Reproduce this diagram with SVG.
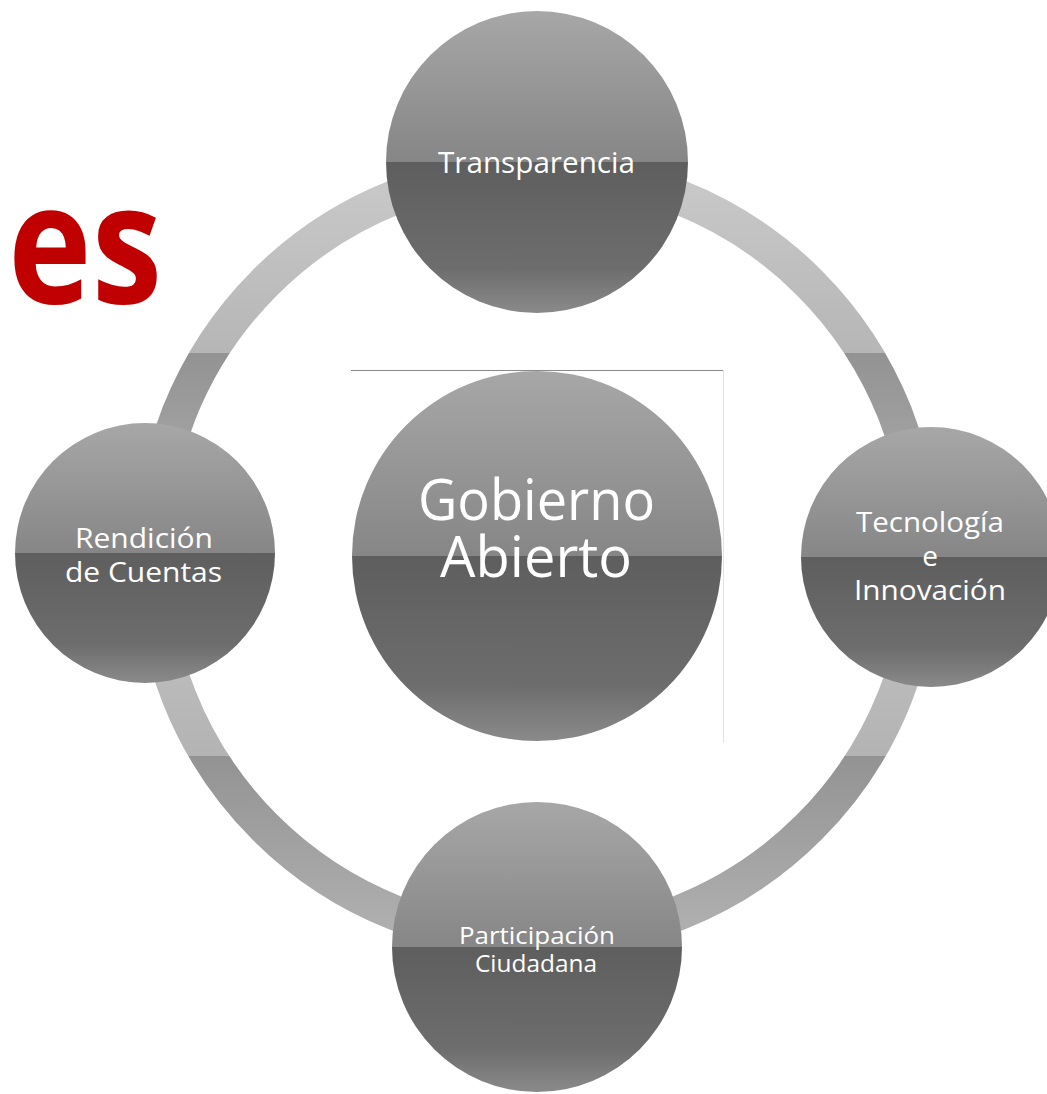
<svg xmlns="http://www.w3.org/2000/svg" width="1047" height="1094" viewBox="0 0 1047 1094">
  <defs>
    <linearGradient id="ballGrad" x1="0" y1="0" x2="0" y2="1">
      <stop offset="0" stop-color="#a7a7a7"/>
      <stop offset="0.499" stop-color="#868686"/>
      <stop offset="0.5" stop-color="#5e5e5e"/>
      <stop offset="0.85" stop-color="#6d6d6d"/>
      <stop offset="1" stop-color="#8a8a8a"/>
    </linearGradient>
    <linearGradient id="arcTop" gradientUnits="userSpaceOnUse" x1="0" y1="152" x2="0" y2="555">
      <stop offset="0" stop-color="#cbcbcb"/>
      <stop offset="0.499" stop-color="#b6b6b6"/>
      <stop offset="0.5" stop-color="#939393"/>
      <stop offset="1" stop-color="#b2b2b2"/>
    </linearGradient>
    <linearGradient id="arcBottom" gradientUnits="userSpaceOnUse" x1="0" y1="555" x2="0" y2="958">
      <stop offset="0" stop-color="#c6c6c6"/>
      <stop offset="0.499" stop-color="#b3b3b3"/>
      <stop offset="0.5" stop-color="#939393"/>
      <stop offset="1" stop-color="#b4b4b4"/>
    </linearGradient>
  </defs>
  <style>
    .ball { fill: url(#ballGrad); }
    .lbl { fill: #ffffff; font-family: "Open Sans", "DejaVu Sans", sans-serif; }
    .ring { fill: none; stroke-width: 35; stroke-linecap: butt; }
  </style>
  <rect x="0" y="0" width="1047" height="1094" fill="#ffffff"/>

  <text x="8" y="303" font-family="Open Sans, Liberation Sans, sans-serif" font-weight="bold" font-size="167" fill="#c00000" textLength="154" lengthAdjust="spacingAndGlyphs">es</text>

  <g id="connectors">
    <path class="ring" stroke="url(#arcTop)" d="M537,170 A385,385 0 0 0 152,555"/>
    <path class="ring" stroke="url(#arcTop)" d="M537,170 A385,385 0 0 1 922,555"/>
    <path class="ring" stroke="url(#arcBottom)" d="M152,555 A385,385 0 0 0 537,940"/>
    <path class="ring" stroke="url(#arcBottom)" d="M922,555 A385,385 0 0 1 537,940"/>
  </g>

  <line x1="351" y1="370.5" x2="723" y2="370.5" stroke="#8a8a8a" stroke-width="1"/>
  <line x1="723.5" y1="370" x2="723.5" y2="743" stroke="#e2e2e2" stroke-width="1"/>

  <g id="center">
    <circle class="ball" cx="537" cy="556" r="185"/>
    <text class="lbl" x="418" y="520" font-size="57" textLength="237" lengthAdjust="spacingAndGlyphs">Gobierno</text>
    <text class="lbl" x="440" y="577" font-size="57" textLength="192" lengthAdjust="spacingAndGlyphs">Abierto</text>
  </g>

  <g id="transparencia">
    <circle class="ball" cx="537" cy="162" r="151"/>
    <text class="lbl" x="438" y="173" font-size="30" textLength="197" lengthAdjust="spacingAndGlyphs">Transparencia</text>
  </g>

  <g id="rendicion">
    <circle class="ball" cx="145" cy="553" r="130"/>
    <text class="lbl" x="75" y="548" font-size="28" textLength="138" lengthAdjust="spacingAndGlyphs">Rendición</text>
    <text class="lbl" x="65" y="582" font-size="28" textLength="157" lengthAdjust="spacingAndGlyphs">de Cuentas</text>
  </g>

  <g id="tecnologia">
    <circle class="ball" cx="931" cy="557" r="130"/>
    <text class="lbl" x="856" y="532" font-size="28" textLength="148" lengthAdjust="spacingAndGlyphs">Tecnología</text>
    <text class="lbl" x="930" y="566" font-size="28" text-anchor="middle">e</text>
    <text class="lbl" x="854" y="600" font-size="28" textLength="152" lengthAdjust="spacingAndGlyphs">Innovación</text>
  </g>

  <g id="participacion">
    <circle class="ball" cx="537" cy="947" r="145"/>
    <text class="lbl" x="459" y="944" font-size="24" textLength="156" lengthAdjust="spacingAndGlyphs">Participación</text>
    <text class="lbl" x="475" y="972" font-size="24" textLength="122" lengthAdjust="spacingAndGlyphs">Ciudadana</text>
  </g>
</svg>
